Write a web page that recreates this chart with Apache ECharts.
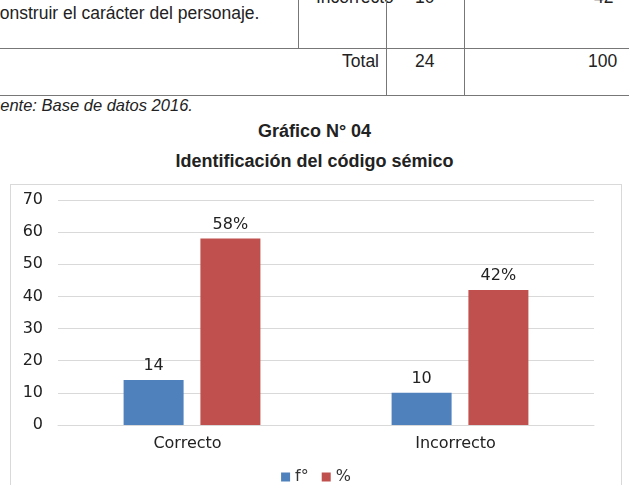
<!DOCTYPE html>
<html>
<head>
<meta charset="utf-8">
<script src="https://cdn.jsdelivr.net/npm/echarts@6/dist/echarts.min.js"></script>
<style>
  body { margin: 0; width: 629px; height: 485px; overflow: hidden; background: #fff; position: relative;
         font-family: "Liberation Sans", Arial, sans-serif; color: #222; }
  .t { position: absolute; white-space: nowrap; font-size: 17.5px; line-height: 20px; }
  .hl { position: absolute; height: 1px; background: #777; left: 0; width: 629px; }
  .vl { position: absolute; width: 1px; background: #777; }
  #chart { position: absolute; left: 10px; top: 184px; width: 612px; height: 320px;
           border: 1px solid #d9d9d9; box-sizing: border-box; }
</style>
</head>
<body>
<!-- restos de la tabla de arriba -->
<div class="t" style="left:-9px; top:3px;">construir el carácter del personaje.</div>
<div class="t" style="left:316px; top:-13px;">Incorrecto</div>
<div class="t" style="left:415px; top:-13px;">10</div>
<div class="t" style="left:594px; top:-13px;">42</div>
<div class="hl" style="top:48px;"></div>
<div class="hl" style="top:95px;"></div>
<div class="vl" style="left:298px; top:0; height:48px;"></div>
<div class="vl" style="left:386px; top:0; height:95px;"></div>
<div class="vl" style="left:464px; top:0; height:95px;"></div>
<div class="t" style="right:250px; top:51px;">Total</div>
<div class="t" style="left:415px; top:51px;">24</div>
<div class="t" style="left:588px; top:51px;">100</div>
<div class="t" style="left:-19px; top:95px; font-size:16.5px; font-style:italic;">Fuente: Base de datos 2016.</div>

<div class="t" style="left:0; width:629px; text-align:center; top:121px; font-size:18px; font-weight:bold;">Gráfico N° 04</div>
<div class="t" style="left:0; width:629px; text-align:center; top:151px; font-size:18px; font-weight:bold;">Identificación del código sémico</div>

<div id="chart"></div>
<script>
// datos del gráfico
var categorias = ['Correcto', 'Incorrecto'];
var frecuencia = [14, 10];
var porcentaje = [58, 42];
var ticksY = [0, 10, 20, 30, 40, 50, 60, 70];

var fuente = 'DejaVu Sans';
var chart = echarts.init(document.getElementById('chart'));
var option = {
    animation: false,
    color: ['#4F81BD', '#C0504D'],
    grid: { left: 47, right: 27, top: 15, height: 225 },
    legend: {
        top: 279,
        left: 'center',
        itemWidth: 9,
        itemHeight: 9,
        itemGap: 13,
        icon: 'rect',
        textStyle: { fontFamily: fuente, fontSize: 16, color: '#333' },
        data: ['f°', '%']
    },
    xAxis: {
        type: 'category',
        data: categorias,
        axisTick: { show: false },
        axisLine: { lineStyle: { color: '#d9d9d9' } },
        // las etiquetas van un poco a la izquierda del centro
        axisLabel: { fontFamily: fuente, fontSize: 16, color: '#222', margin: 11, padding: [0, 9, 0, 0] }
    },
    yAxis: {
        type: 'value',
        min: ticksY[0],
        max: ticksY[ticksY.length - 1],
        interval: 10,
        axisLabel: { fontFamily: fuente, fontSize: 16, color: '#222', margin: 15 },
        splitLine: { lineStyle: { color: '#d9d9d9' } }
    },
    series: [
        {
            name: 'f°',
            type: 'bar',
            barWidth: 60,
            barGap: '28%',
            data: frecuencia,
            label: { show: true, position: 'top', distance: 6, fontFamily: fuente, fontSize: 16, color: '#222' }
        },
        {
            name: '%',
            type: 'bar',
            barWidth: 60,
            data: porcentaje,
            label: { show: true, position: 'top', distance: 6, formatter: '{c}%', fontFamily: fuente, fontSize: 16, color: '#222' }
        }
    ]
};
chart.setOption(option);
</script>
</body>
</html>
